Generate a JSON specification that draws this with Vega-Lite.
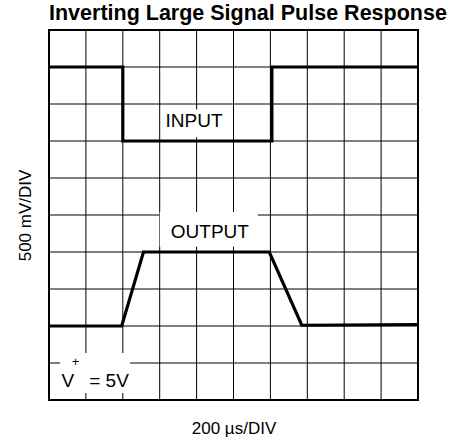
{
  "$schema": "https://vega.github.io/schema/vega-lite/v6.json",
  "width": 369,
  "height": 370,
  "autosize": "none",
  "padding": {"left": 49, "top": 30, "right": 35, "bottom": 40},
  "background": "white",
  "title": {
    "text": "Inverting Large Signal Pulse Response",
    "anchor": "start",
    "fontSize": 21.5,
    "fontWeight": "bold",
    "font": "Liberation Sans",
    "color": "black",
    "offset": 5,
    "frame": "group"
  },
  "config": {
    "view": {"stroke": "black", "strokeWidth": 2},
    "font": "Liberation Sans",
    "axis": {
      "grid": false,
      "labels": false, "ticks": false, "domain": false,
      "titleFontSize": 17, "titleFont": "Liberation Sans",
      "titleFontWeight": "normal", "titleColor": "black"
    }
  },
  "datasets": {
    "divs": [
      {"d": 1}, {"d": 2}, {"d": 3}, {"d": 4}, {"d": 5},
      {"d": 6}, {"d": 7}, {"d": 8}, {"d": 9}
    ],
    "boxes": [
      {"name": "INPUT", "t0": 3.1, "t1": 4.9, "v0": 7.1, "v1": 7.85},
      {"name": "OUTPUT", "t0": 3.0, "t1": 5.66, "v0": 4.14, "v1": 5.08},
      {"name": "V+", "t0": 0.3, "t1": 2.2, "v0": 0.19, "v1": 1.27}
    ],
    "labels": [
      {"label": "INPUT", "t": 3.93, "v": 7.39},
      {"label": "OUTPUT", "t": 4.36, "v": 4.37}
    ],
    "vbig": [
      {"label": "V", "t": 0.34, "v": 0.36},
      {"label": "= 5V", "t": 1.09, "v": 0.36}
    ],
    "vsup": [
      {"label": "+", "t": 0.72, "v": 1.02}
    ],
    "traces": [
      {"series": "input", "i": 0, "t": 0, "v": 9},
      {"series": "input", "i": 1, "t": 2.0, "v": 9},
      {"series": "input", "i": 2, "t": 2.0, "v": 7},
      {"series": "input", "i": 3, "t": 6.04, "v": 7},
      {"series": "input", "i": 4, "t": 6.04, "v": 9},
      {"series": "input", "i": 5, "t": 10, "v": 9},
      {"series": "output", "i": 0, "t": 0, "v": 2},
      {"series": "output", "i": 1, "t": 1.97, "v": 2},
      {"series": "output", "i": 2, "t": 2.56, "v": 4},
      {"series": "output", "i": 3, "t": 5.97, "v": 4},
      {"series": "output", "i": 4, "t": 6.85, "v": 2.02},
      {"series": "output", "i": 5, "t": 10, "v": 2.04}
    ]
  },
  "layer": [
    {
      "data": {"name": "divs"},
      "mark": {"type": "rule", "color": "black", "strokeWidth": 1},
      "encoding": {
        "x": {
          "field": "d", "type": "quantitative",
          "scale": {"domain": [0, 10], "nice": false, "zero": false},
          "axis": {"title": "200 µs/DIV", "titlePadding": 20}
        }
      }
    },
    {
      "data": {"name": "divs"},
      "mark": {"type": "rule", "color": "black", "strokeWidth": 1},
      "encoding": {
        "y": {
          "field": "d", "type": "quantitative",
          "scale": {"domain": [0, 10], "nice": false, "zero": false},
          "axis": {"title": "500 mV/DIV", "titlePadding": 15}
        }
      }
    },
    {
      "data": {"name": "boxes"},
      "mark": {"type": "rect", "fill": "white", "stroke": null},
      "encoding": {
        "x": {"field": "t0", "type": "quantitative"},
        "x2": {"field": "t1"},
        "y": {"field": "v0", "type": "quantitative"},
        "y2": {"field": "v1"}
      }
    },
    {
      "data": {"name": "labels"},
      "mark": {"type": "text", "fontSize": 19, "font": "Liberation Sans", "color": "black", "align": "center", "baseline": "alphabetic"},
      "encoding": {
        "x": {"field": "t", "type": "quantitative"},
        "y": {"field": "v", "type": "quantitative"},
        "text": {"field": "label"}
      }
    },
    {
      "data": {"name": "vbig"},
      "mark": {"type": "text", "fontSize": 19, "font": "Liberation Sans", "color": "black", "align": "left", "baseline": "alphabetic"},
      "encoding": {
        "x": {"field": "t", "type": "quantitative"},
        "y": {"field": "v", "type": "quantitative"},
        "text": {"field": "label"}
      }
    },
    {
      "data": {"name": "vsup"},
      "mark": {"type": "text", "fontSize": 13, "font": "Liberation Sans", "color": "black", "align": "center", "baseline": "middle"},
      "encoding": {
        "x": {"field": "t", "type": "quantitative"},
        "y": {"field": "v", "type": "quantitative"},
        "text": {"field": "label"}
      }
    },
    {
      "data": {"name": "traces"},
      "mark": {"type": "line", "color": "black", "strokeWidth": 3.2, "strokeJoin": "miter"},
      "encoding": {
        "x": {"field": "t", "type": "quantitative"},
        "y": {"field": "v", "type": "quantitative"},
        "detail": {"field": "series"},
        "order": {"field": "i", "type": "quantitative"}
      }
    }
  ]
}
